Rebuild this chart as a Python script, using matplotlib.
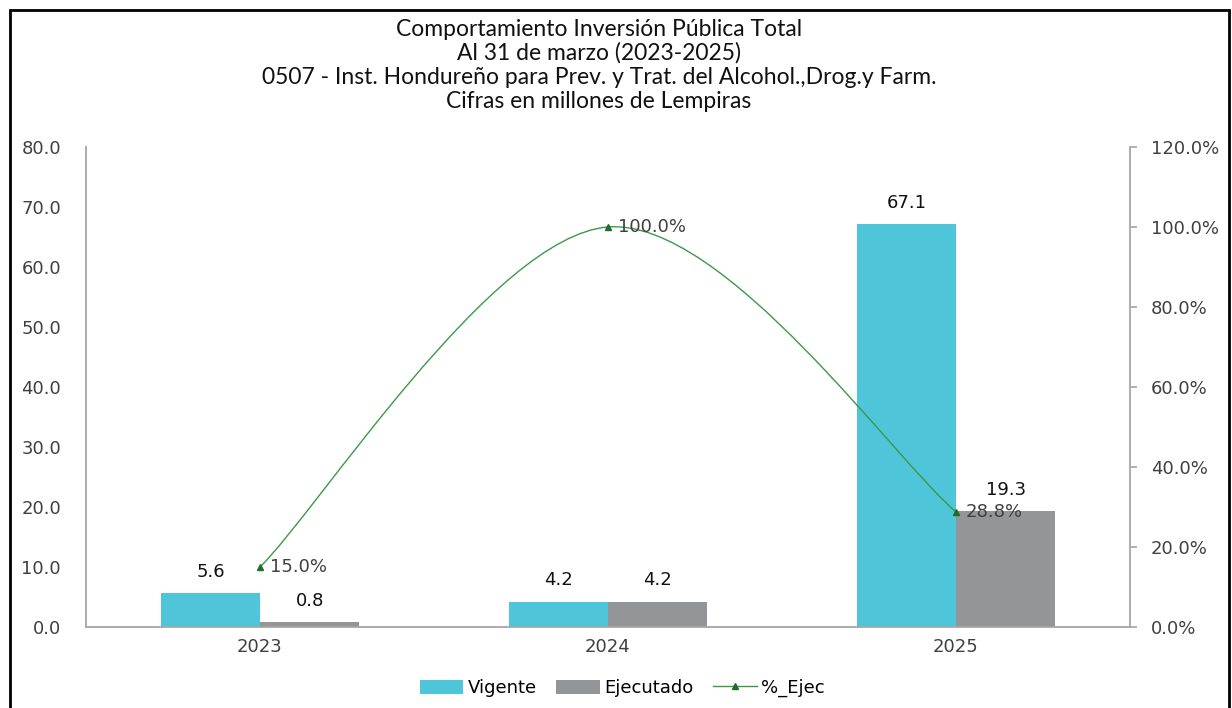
import matplotlib.pyplot as plt
from matplotlib.path import Path
from matplotlib.patches import PathPatch, Rectangle
from matplotlib.lines import Line2D
from matplotlib.ticker import FuncFormatter

plt.rcParams['font.family'] = ['DejaVu Sans']

years = ['2023', '2024', '2025']
vigente = [5.6, 4.2, 67.1]
ejecutado = [0.8, 4.2, 19.3]
pct_ejec = [15.0, 100.0, 28.8]

title_lines = ['Comportamiento Inversión Pública Total',
               'Al 31 de marzo (2023-2025)',
               '0507 - Inst. Hondureño para Prev. y Trat. del Alcohol.,Drog.y Farm.',
               'Cifras en millones de Lempiras']

c_vig = '#4FC5D9'
c_eje = '#939598'
c_line = '#3A9A4A'
c_mark = '#1E6E2A'
grey = '#A6A6A6'
fs = 13

fig = plt.figure(figsize=(12.32, 7.08), dpi=100)
ax = fig.add_axes([0.0698, 0.1144, 0.8474, 0.678])
ax2 = ax.twinx()

x = list(range(len(years)))
w = 0.285
b1 = ax.bar([i - w / 2 for i in x], vigente, w, color=c_vig, label='Vigente', zorder=2)
b2 = ax.bar([i + w / 2 for i in x], ejecutado, w, color=c_eje, label='Ejecutado', zorder=2)
ax.bar_label(b1, labels=[f'{v:.1f}' for v in vigente], padding=9, fontsize=fs, color='#111111')
ax.bar_label(b2, labels=[f'{v:.1f}' for v in ejecutado], padding=9, fontsize=fs, color='#111111')

ax.set_xlim(-0.5, 2.5)
ax.set_ylim(0, 80)
ax.set_yticks(range(0, 81, 10))
ax.yaxis.set_major_formatter(FuncFormatter(lambda v, p: f'{v:.1f}'))
ax.set_xticks(x)
ax.set_xticklabels(years)
ax.tick_params(axis='y', length=0, pad=18, labelsize=fs, labelcolor='#404040')
ax.tick_params(axis='x', length=0, pad=8, labelsize=fs, labelcolor='#404040')

ax2.set_ylim(0, 120)
ax2.set_yticks(range(0, 121, 20))
ax2.yaxis.set_major_formatter(FuncFormatter(lambda v, p: f'{v:.1f}%'))
ax2.tick_params(axis='y', length=5, width=1.2, color=grey, pad=10, labelsize=fs, labelcolor='#404040')

for a in (ax, ax2):
    for s in a.spines.values():
        s.set_visible(False)
ax.spines['left'].set_visible(True)
ax.spines['bottom'].set_visible(True)
ax2.spines['right'].set_visible(True)
for s in (ax.spines['left'], ax.spines['bottom'], ax2.spines['right']):
    s.set_color(grey)
    s.set_linewidth(1.3)

# smoothed line (Catmull-Rom style Bezier, like Excel)
pts = list(zip(x, pct_ejec))
verts = [pts[0]]
codes = [Path.MOVETO]
n = len(pts)
for i in range(n - 1):
    p0 = pts[i - 1] if i > 0 else pts[i]
    p1 = pts[i]
    p2 = pts[i + 1]
    p3 = pts[i + 2] if i + 2 < n else pts[i + 1]
    c1 = (p1[0] + (p2[0] - p0[0]) / 6, p1[1] + (p2[1] - p0[1]) / 6)
    c2 = (p2[0] - (p3[0] - p1[0]) / 6, p2[1] - (p3[1] - p1[1]) / 6)
    verts += [c1, c2, p2]
    codes += [Path.CURVE4] * 3
ax2.add_patch(PathPatch(Path(verts, codes), fill=False, edgecolor=c_line, lw=1.0, zorder=3))
ax2.plot(x, pct_ejec, linestyle='none', marker='^', markersize=5, color=c_mark, zorder=4)
for xi, v in zip(x, pct_ejec):
    ax2.annotate(f'{v:.1f}%', (xi, v), xytext=(7, 0), textcoords='offset points',
                 va='center', ha='left', fontsize=fs, color='#404040')

handles = [b1, b2, Line2D([0], [0], color=c_line, lw=1.0, marker='^', markersize=5,
                          markerfacecolor=c_mark, markeredgecolor=c_mark)]
fig.legend(handles, ['Vigente', 'Ejecutado', '%_Ejec'], loc='center', bbox_to_anchor=(0.505, 0.028),
           ncol=3, frameon=False, fontsize=fs, handlelength=2.4, handleheight=0.8,
           columnspacing=1.1, handletextpad=0.25)

for k, line in enumerate(title_lines):
    fig.text(0.486, 1 - (29 + 24.3 * k) / 708, line, ha='center', va='center', fontsize=16.5,
             family=['Lato', 'DejaVu Sans'], color='#111111')

fig.add_artist(Rectangle((10 / 1232, -0.05), 1219 / 1232, 1.05 - 10 / 708, transform=fig.transFigure,
                         fill=False, edgecolor='black', lw=2))

fig.savefig('out.png', dpi=100)
